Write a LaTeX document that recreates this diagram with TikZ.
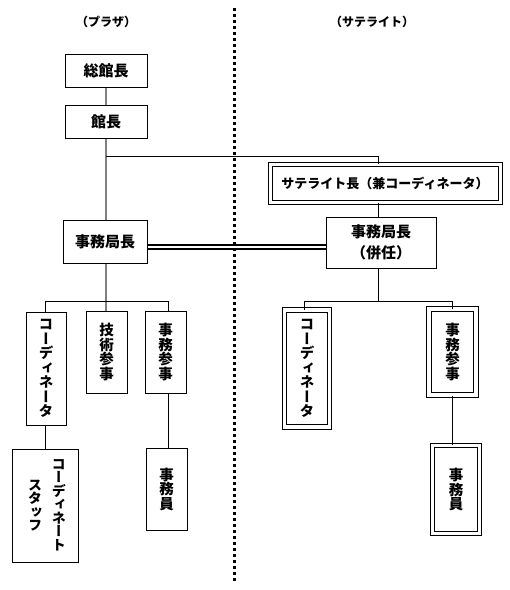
\documentclass[tikz,border=0pt]{standalone}
\usepackage{fontspec}
\newfontfamily\jp{Noto Sans CJK JP}
\newfontfamily\jpv{Noto Sans CJK JP}[RawFeature=+vert]
\definecolor{trunkgray}{RGB}{128,128,128}
\begin{document}
\begin{tikzpicture}[x=1pt,y=-1pt,
  box/.style={draw, line width=1pt, inner sep=0pt, font=\jp\bfseries\fontsize{15}{21}\selectfont, align=center},
  dbox/.style={box, double, double distance=3pt},
  vbox/.style={draw, line width=1pt, inner sep=0pt, align=center, font=\jpv\bfseries\fontsize{14.5}{14.5}\selectfont},
  dvbox/.style={vbox, double, double distance=3.5pt},
  vtext/.style={inner sep=0pt, align=center, font=\jpv\bfseries\fontsize{14}{13.5}\selectfont},
  head/.style={inner sep=0pt, font=\jp\bfseries\fontsize{12}{14}\selectfont},
  conn/.style={line width=1pt},
  trunk/.style={line width=2pt, trunkgray},
  dbl/.style={line width=1.6pt, double, double distance=2pt},
  divider/.style={line width=3pt, dash pattern=on 3pt off 3pt}]
\useasboundingbox (0,0) rectangle (510,590);
% divider
\coordinate (dvt) at (234,8);
\coordinate (dvb) at (234,581);
\draw[divider] (dvt) -- (dvb);
% headers
\node[head] (hp) at (106,22) {（プラザ）};
\node[head] (hs) at (372,22) {（サテライト）};
% plaza
\node[box, minimum width=82pt, minimum height=33pt] (zk) at (106,70.5) {総館長};
\node[box, minimum width=82pt, minimum height=33pt] (kc) at (106,121.5) {館長};
\node[box, minimum width=84pt, minimum height=43pt] (jk) at (105,241.5) {事務局長};
\node[vbox, minimum width=40pt, minimum height=113pt] (lc) at (46,368.5) {コ\\ー\\デ\\ィ\\ネ\\ー\\タ};
\node[vbox, minimum width=41pt, minimum height=82pt] (gs) at (106.5,352) {技\\術\\参\\事};
\node[vbox, minimum width=41pt, minimum height=82pt] (js) at (165.5,352) {事\\務\\参\\事};
\node[draw, line width=1pt, minimum width=66pt, minimum height=113pt] (cs) at (45,505.5) {};
\node[vtext] (cs1) at (59,505) {コ\\ー\\デ\\ィ\\ネ\\ー\\ト};
\node[vtext] (cs2) at (35,505.5) {ス\\タ\\ッ\\フ};
\node[vbox, minimum width=41pt, minimum height=82pt] (ji) at (166.5,489) {事\\務\\員};
% satellite
\node[dbox, font=\jp\bfseries\fontsize{13}{15}\selectfont, minimum width=230pt, minimum height=38pt] (sat) at (385,183) {サテライト長（兼コーディネータ）};
\node[box, minimum width=110pt, minimum height=51pt] (jh) at (381,242.5) {事務局長\\（併任）};
\node[dvbox, minimum width=45pt, minimum height=117pt] (rc) at (307,368.5) {コ\\ー\\デ\\ィ\\ネ\\ー\\タ};
\node[dvbox, minimum width=47pt, minimum height=86pt] (rjs) at (452.5,352) {事\\務\\参\\事};
\node[dvbox, minimum width=47pt, minimum height=88pt] (rji) at (456,489.5) {事\\務\\員};
% trunk (gray)
\draw[trunk] (zk.south) -- (kc.north);
\draw[trunk] (kc.south) -- (kc.south |- jk.north);
\draw[trunk] (kc.south |- jk.south) -- (kc.south |- gs.north);
% connectors
\coordinate (t1) at (106,156);
\coordinate (t2) at (378,156);
\draw[conn] (t1) -- (t2) -- (t2 |- sat.north);
\draw[conn] (t2 |- sat.south) -- (t2 |- jh.north);
\coordinate (rb) at (378,301);
\coordinate (rl) at (304,301);
\coordinate (rr) at (452,301);
\draw[conn] (t2 |- jh.south) -- (rb);
\draw[conn] (rl |- rc.north) -- (rl) -- (rr) -- (rr |- rjs.north);
\draw[conn] (rr |- rjs.south) -- (rr |- rji.north);
\coordinate (ll) at (45,301);
\coordinate (lr) at (168,301);
\draw[conn] (ll |- lc.north) -- (ll) -- (lr) -- (lr |- js.north);
\draw[conn] (ll |- lc.south) -- (ll |- cs.north);
\draw[conn] (lr |- js.south) -- (lr |- ji.north);
% double link
\path ([yshift=-5.5pt]jk.east) coordinate (d1);
\draw[dbl] (d1) -- (d1 -| jh.west);
\end{tikzpicture}
\end{document}
